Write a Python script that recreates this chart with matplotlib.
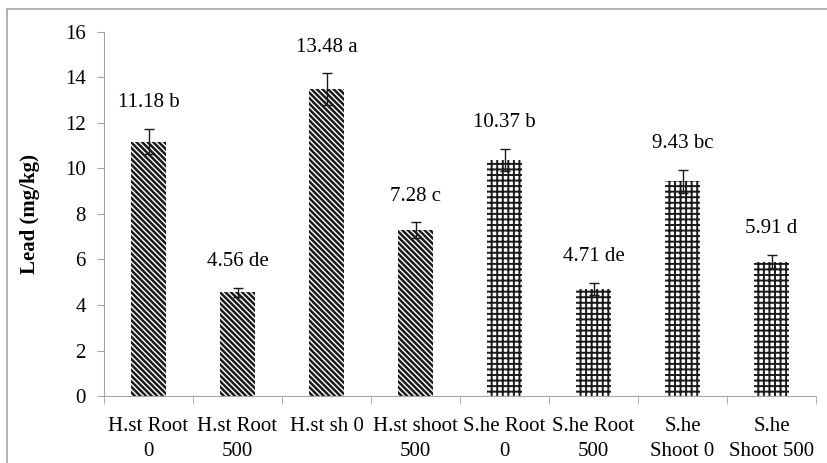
import matplotlib.pyplot as plt
import numpy as np
from matplotlib.patches import Rectangle

plt.rcParams.update({
    "font.family": ["Liberation Serif", "DejaVu Serif"],
    "font.size": 15,
})

categories = [
    "H.st Root\n0", "H.st Root\n500", "H.st sh 0", "H.st shoot\n500",
    "S.he Root\n0", "S.he Root\n500", "S.he\nShoot 0", "S.he\nShoot 500",
]
lead = [11.18, 4.56, 13.48, 7.28, 10.37, 4.71, 9.43, 5.91]
errors = [0.55, 0.2, 0.7, 0.35, 0.5, 0.25, 0.5, 0.3]
letters = ["b", "de", "a", "c", "b", "de", "bc", "d"]

fig = plt.figure(figsize=(8.28, 4.63), dpi=100)
ax = fig.add_axes([0.1256, 0.1447, 0.86, 0.7862])

# outer chart-area frame
fig.patches.append(Rectangle((7 / 828, -0.05), 1.0, 1 - 9 / 463 + 0.05,
                             transform=fig.transFigure, fill=False,
                             edgecolor="#a6a6a6", linewidth=1.2))

x = np.arange(len(categories))
hatches = ["\\" * 6] * 4 + ["+++"] * 4
hatch_lw = [1.8] * 4 + [1.4] * 4

for xi, val, h, hl in zip(x, lead, hatches, hatch_lw):
    with plt.rc_context({"hatch.linewidth": hl}):
        ax.bar(xi, val, width=0.4, color="white", edgecolor="#1a1a1a",
               linewidth=0, hatch=h)

ax.errorbar(x, lead, yerr=errors, fmt="none", ecolor="#1a1a1a",
            elinewidth=1, capsize=3.5, capthick=1)

for xi, val, err, lt in zip(x, lead, errors, letters):
    ax.annotate(f"{val:.2f} {lt}", (xi, val + err), xytext=(0, 12),
                textcoords="offset points", ha="center", va="bottom",
                fontsize=15)

ax.set_xlim(-0.5, len(categories) - 0.5)
ax.set_ylim(0, 16)
ax.set_yticks(np.arange(0, 17, 2))
ax.set_xticks(x)
ax.set_xticklabels(categories, linespacing=1.45)
ax.set_xticks(np.arange(-0.5, len(categories)), minor=True)
ax.tick_params(axis="x", which="major", length=0, pad=15)
ax.tick_params(axis="x", which="minor", length=6, color="#a6a6a6")
ax.tick_params(axis="y", length=5, color="#a6a6a6", pad=8)

for side in ("top", "right"):
    ax.spines[side].set_visible(False)
for side in ("left", "bottom"):
    ax.spines[side].set_color("#a6a6a6")

ax.set_ylabel("Lead (mg/kg)", fontweight="bold", labelpad=18)

fig.savefig("out.png", dpi=100)
